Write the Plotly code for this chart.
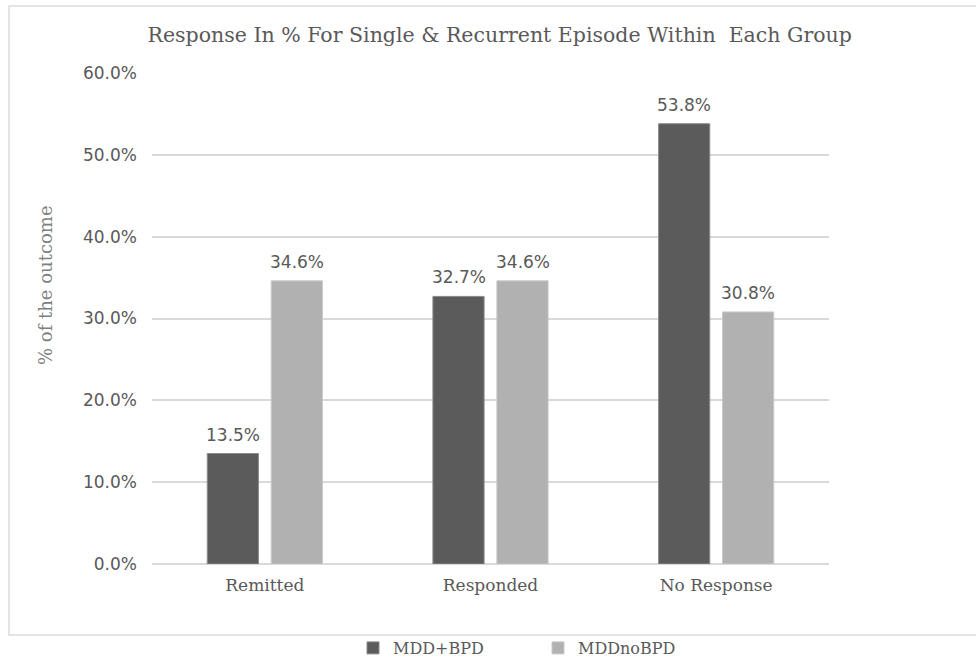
import plotly.graph_objects as go

categories = ["Remitted", "Responded", "No Response"]
series_names = ["MDD+BPD", "MDDnoBPD"]
mdd_bpd = [13.5, 32.7, 53.8]
mdd_no_bpd = [34.6, 34.6, 30.8]
y_ticks = [0, 10, 20, 30, 40, 50, 60]
y_tick_labels = [f"{v:.1f}%" for v in y_ticks]

dark = "#5b5b5b"
light = "#b1b1b1"
text_gray = "#595959"
grid_gray = "#d9d9d9"
serif = "DejaVu Serif"
sans = "DejaVu Sans"

fig = go.Figure()
series = [
    (series_names[0], mdd_bpd, dark, "#8a8a8a", -32),
    (series_names[1], mdd_no_bpd, light, "#c8c8c8", 32),
]
value_labels = []
for name, vals, col, edge, shift in series:
    fig.add_trace(go.Bar(
        name=name,
        x=categories,
        y=vals,
        marker=dict(color=col, line=dict(color=edge, width=1)),
    ))
    # value labels sit a little above each bar
    for cat, v in zip(categories, vals):
        value_labels.append(dict(
            x=cat, y=v, xref="x", yref="y",
            text=f"{v:.1f}%", showarrow=False,
            xanchor="center", yanchor="bottom",
            xshift=shift, yshift=7,
            font=dict(family=sans, size=17, color=text_gray),
        ))

fig.update_layout(
    width=976,
    height=660,
    margin=dict(l=152, r=147, t=73, b=96, autoexpand=False),
    paper_bgcolor="white",
    plot_bgcolor="white",
    barmode="group",
    bargap=0.433,
    bargroupgap=0.2,
    showlegend=True,
    legend=dict(
        orientation="h",
        xref="container", yref="container",
        x=(362 - 9) / 976, xanchor="left",
        y=1 - 648 / 660, yanchor="middle",
        font=dict(family=serif, size=16, color=text_gray),
        bgcolor="rgba(0,0,0,0)",
        itemwidth=30,
        entrywidth=140,
        tracegroupgap=0,
    ),
    xaxis=dict(
        showgrid=False,
        showline=False,
        ticks="",
        tickfont=dict(family=serif, size=17, color=text_gray),
        ticklabelstandoff=9,
    ),
    yaxis=dict(
        range=[0, 60],
        tickvals=y_ticks,
        ticktext=y_tick_labels,
        showgrid=True,
        gridcolor=grid_gray,
        gridwidth=1.5,
        zeroline=True,
        zerolinecolor=grid_gray,
        zerolinewidth=1.5,
        showline=False,
        ticks="",
        tickfont=dict(family=sans, size=17, color=text_gray),
        ticklabelstandoff=14,
    ),
    title=dict(
        text="Response In % For Single & Recurrent Episode Within  Each Group",
        x=0.512, xanchor="center", xref="container",
        y=1 - 35 / 660, yanchor="middle", yref="container",
        font=dict(family=serif, size=20.5, color=text_gray),
    ),
    annotations=value_labels + [dict(
        text="% of the outcome",
        xref="paper", yref="paper",
        x=(45 - 152) / 677, y=(564 - 285) / 491,
        xanchor="center", yanchor="middle",
        textangle=-90, showarrow=False,
        font=dict(family=serif, size=18, color="#7f7f7f"),
    )],
    shapes=[dict(
        type="rect", xref="paper", yref="paper", layer="below",
        x0=(9 - 152) / 677, x1=(990 - 152) / 677,
        y0=(564 - 635) / 491, y1=(564 - 6) / 491,
        line=dict(color="#dcdcdc", width=1.5),
        fillcolor="rgba(0,0,0,0)",
    )],
)

fig.write_html("out.html")
